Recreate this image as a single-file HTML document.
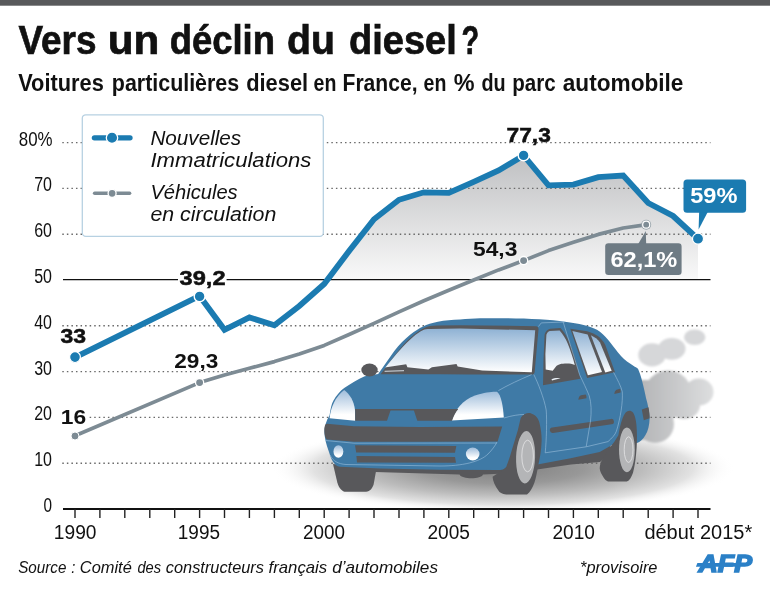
<!DOCTYPE html>
<html lang="fr"><head><meta charset="utf-8"><title>Vers un déclin du diesel ?</title>
<style>
html,body{margin:0;padding:0;background:#fff;}
svg{display:block;}
text{font-family:"Liberation Sans",sans-serif;fill:#111;}
.b{font-weight:bold;}
.i{font-style:italic;}
</style></head><body>
<svg width="770" height="591" viewBox="0 0 770 591">
<defs>
<linearGradient id="gArea" x1="0" y1="0" x2="0" y2="1"><stop offset="0" stop-color="#bfc0c2"/><stop offset="1" stop-color="#fbfbfb"/></linearGradient>
<linearGradient id="gGlass" x1="0" y1="0" x2="0" y2="1"><stop offset="0" stop-color="#8fb2d4"/><stop offset="1" stop-color="#ffffff"/></linearGradient>
<linearGradient id="gLamp" x1="0" y1="0" x2="0" y2="1"><stop offset="0" stop-color="#9fbddb"/><stop offset="0.8" stop-color="#ffffff"/></linearGradient>
<linearGradient id="gSmoke" gradientUnits="userSpaceOnUse" x1="640" y1="0" x2="715" y2="0"><stop offset="0" stop-color="#b4b5b7"/><stop offset="1" stop-color="#dedfe0"/></linearGradient>
<radialGradient id="gShadow" cx="0.5" cy="0.5" r="0.5"><stop offset="0" stop-color="#808080"/><stop offset="0.35" stop-color="#989898"/><stop offset="0.6" stop-color="#bcbcbc"/><stop offset="0.82" stop-color="#e2e2e2"/><stop offset="1" stop-color="#ffffff" stop-opacity="0"/></radialGradient>
<filter id="blur1" x="-20%" y="-20%" width="140%" height="140%"><feGaussianBlur stdDeviation="1"/></filter>
<filter id="blur3" x="-20%" y="-20%" width="140%" height="140%"><feGaussianBlur stdDeviation="2.5"/></filter>
</defs>
<rect width="770" height="591" fill="#fff"/>
<rect width="770" height="5.7" fill="#58595b"/>

<text y="54" class="b" font-size="40" stroke="#111" stroke-width="0.7"><tspan x="18.5" textLength="77.9" lengthAdjust="spacingAndGlyphs">Vers</tspan> <tspan x="107.8" textLength="51.6" lengthAdjust="spacingAndGlyphs">un</tspan> <tspan x="169.7" textLength="105.2" lengthAdjust="spacingAndGlyphs">déclin</tspan> <tspan x="287.1" textLength="47.9" lengthAdjust="spacingAndGlyphs">du</tspan> <tspan x="349.0" textLength="107.7" lengthAdjust="spacingAndGlyphs">diesel</tspan> <tspan x="461.6" textLength="17.7" lengthAdjust="spacingAndGlyphs">?</tspan></text>
<text y="91" class="b" font-size="23"><tspan x="18.2" textLength="85.6" lengthAdjust="spacingAndGlyphs">Voitures</tspan> <tspan x="111.8" textLength="127.4" lengthAdjust="spacingAndGlyphs">particulières</tspan> <tspan x="246.2" textLength="62.0" lengthAdjust="spacingAndGlyphs">diesel</tspan> <tspan x="313.6" textLength="22.8" lengthAdjust="spacingAndGlyphs">en</tspan> <tspan x="342.5" textLength="75.0" lengthAdjust="spacingAndGlyphs">France,</tspan> <tspan x="423.6" textLength="22.8" lengthAdjust="spacingAndGlyphs">en</tspan> <tspan x="453.7" textLength="20.8" lengthAdjust="spacingAndGlyphs">%</tspan> <tspan x="481.5" textLength="24.2" lengthAdjust="spacingAndGlyphs">du</tspan> <tspan x="512.3" textLength="43.4" lengthAdjust="spacingAndGlyphs">parc</tspan> <tspan x="562.8" textLength="120.6" lengthAdjust="spacingAndGlyphs">automobile</tspan></text>
<g id="under">
<!-- ground shadow -->
<ellipse cx="503" cy="468" rx="232" ry="45" fill="url(#gShadow)"/>
<!-- smoke -->
<g filter="url(#blur1)">
<ellipse cx="694.7" cy="337.2" rx="10.7" ry="7.8" fill="#d6d7d9"/>
<ellipse cx="671.8" cy="348.8" rx="13.7" ry="10.9" fill="#d6d7d9"/>
<ellipse cx="652" cy="354.9" rx="13.7" ry="11.6" fill="#d6d7d9"/>
<g fill="url(#gSmoke)">
<circle cx="668" cy="394.5" r="24"/>
<circle cx="655" cy="424" r="19"/>
<ellipse cx="699" cy="392" rx="14.5" ry="13.5"/>
<ellipse cx="684" cy="405" rx="16" ry="14"/>
<rect x="636" y="380" width="20" height="60"/>
</g>
</g>
</g>

<path d="M318.5,279.5 L324.2,284.0 L349.1,251.0 L374.0,219.3 L399.0,199.8 L423.9,192.3 L448.8,192.9 L473.7,181.8 L498.6,170.5 L523.6,155.4 L548.5,185.3 L573.4,184.6 L598.3,177.1 L623.2,175.5 L648.2,203.0 L673.1,216.0 L698.0,238.8 L698.0,279.5 Z" fill="url(#gArea)"/>
<line x1="62.3" x2="710.5" y1="463.2" y2="463.2" stroke="#6a6a6a" stroke-width="1.4" stroke-dasharray="1.5 3.06"/>
<line x1="62.3" x2="710.5" y1="417.4" y2="417.4" stroke="#6a6a6a" stroke-width="1.4" stroke-dasharray="1.5 3.06"/>
<line x1="62.3" x2="710.5" y1="371.6" y2="371.6" stroke="#6a6a6a" stroke-width="1.4" stroke-dasharray="1.5 3.06"/>
<line x1="62.3" x2="710.5" y1="325.8" y2="325.8" stroke="#6a6a6a" stroke-width="1.4" stroke-dasharray="1.5 3.06"/>
<line x1="62.3" x2="710.5" y1="234.2" y2="234.2" stroke="#6a6a6a" stroke-width="1.4" stroke-dasharray="1.5 3.06"/>
<line x1="62.3" x2="710.5" y1="188.4" y2="188.4" stroke="#6a6a6a" stroke-width="1.4" stroke-dasharray="1.5 3.06"/>
<line x1="62.3" x2="710.5" y1="142.6" y2="142.6" stroke="#6a6a6a" stroke-width="1.4" stroke-dasharray="1.5 3.06"/>
<text x="18.8" y="145.5" font-size="19.7" textLength="33.8" lengthAdjust="spacingAndGlyphs">80%</text>
<text x="34.2" y="191.3" font-size="19.7" textLength="17.8" lengthAdjust="spacingAndGlyphs">70</text>
<text x="34.2" y="237.1" font-size="19.7" textLength="17.8" lengthAdjust="spacingAndGlyphs">60</text>
<text x="34.2" y="282.9" font-size="19.7" textLength="17.8" lengthAdjust="spacingAndGlyphs">50</text>
<text x="34.2" y="328.7" font-size="19.7" textLength="17.8" lengthAdjust="spacingAndGlyphs">40</text>
<text x="34.2" y="374.5" font-size="19.7" textLength="17.8" lengthAdjust="spacingAndGlyphs">30</text>
<text x="34.2" y="420.3" font-size="19.7" textLength="17.8" lengthAdjust="spacingAndGlyphs">20</text>
<text x="34.2" y="466.1" font-size="19.7" textLength="17.8" lengthAdjust="spacingAndGlyphs">10</text>
<text x="43.5" y="511.9" font-size="19.7" textLength="8.5" lengthAdjust="spacingAndGlyphs">0</text>
<line x1="63" x2="710.5" y1="279.6" y2="279.6" stroke="#111" stroke-width="1.3"/>
<line x1="63" x2="710.5" y1="509" y2="509" stroke="#111" stroke-width="1.9"/>
<line x1="75.0" x2="75.0" y1="509" y2="518" stroke="#222" stroke-width="1.4"/>
<line x1="99.9" x2="99.9" y1="509" y2="518" stroke="#222" stroke-width="1.4"/>
<line x1="124.8" x2="124.8" y1="509" y2="518" stroke="#222" stroke-width="1.4"/>
<line x1="149.8" x2="149.8" y1="509" y2="518" stroke="#222" stroke-width="1.4"/>
<line x1="174.7" x2="174.7" y1="509" y2="518" stroke="#222" stroke-width="1.4"/>
<line x1="199.6" x2="199.6" y1="509" y2="518" stroke="#222" stroke-width="1.4"/>
<line x1="224.5" x2="224.5" y1="509" y2="518" stroke="#222" stroke-width="1.4"/>
<line x1="249.4" x2="249.4" y1="509" y2="518" stroke="#222" stroke-width="1.4"/>
<line x1="274.4" x2="274.4" y1="509" y2="518" stroke="#222" stroke-width="1.4"/>
<line x1="299.3" x2="299.3" y1="509" y2="518" stroke="#222" stroke-width="1.4"/>
<line x1="324.2" x2="324.2" y1="509" y2="518" stroke="#222" stroke-width="1.4"/>
<line x1="349.1" x2="349.1" y1="509" y2="518" stroke="#222" stroke-width="1.4"/>
<line x1="374.0" x2="374.0" y1="509" y2="518" stroke="#222" stroke-width="1.4"/>
<line x1="399.0" x2="399.0" y1="509" y2="518" stroke="#222" stroke-width="1.4"/>
<line x1="423.9" x2="423.9" y1="509" y2="518" stroke="#222" stroke-width="1.4"/>
<line x1="448.8" x2="448.8" y1="509" y2="518" stroke="#222" stroke-width="1.4"/>
<line x1="473.7" x2="473.7" y1="509" y2="518" stroke="#222" stroke-width="1.4"/>
<line x1="498.6" x2="498.6" y1="509" y2="518" stroke="#222" stroke-width="1.4"/>
<line x1="523.6" x2="523.6" y1="509" y2="518" stroke="#222" stroke-width="1.4"/>
<line x1="548.5" x2="548.5" y1="509" y2="518" stroke="#222" stroke-width="1.4"/>
<line x1="573.4" x2="573.4" y1="509" y2="518" stroke="#222" stroke-width="1.4"/>
<line x1="598.3" x2="598.3" y1="509" y2="518" stroke="#222" stroke-width="1.4"/>
<line x1="623.2" x2="623.2" y1="509" y2="518" stroke="#222" stroke-width="1.4"/>
<line x1="648.2" x2="648.2" y1="509" y2="518" stroke="#222" stroke-width="1.4"/>
<line x1="673.1" x2="673.1" y1="509" y2="518" stroke="#222" stroke-width="1.4"/>
<line x1="698.0" x2="698.0" y1="509" y2="518" stroke="#222" stroke-width="1.4"/>
<text x="53.8" y="538.8" font-size="19.6" textLength="42.7" lengthAdjust="spacingAndGlyphs">1990</text>
<text x="177.8" y="538.8" font-size="19.6" textLength="42.2" lengthAdjust="spacingAndGlyphs">1995</text>
<text x="303.0" y="538.8" font-size="19.6" textLength="42.0" lengthAdjust="spacingAndGlyphs">2000</text>
<text x="427.5" y="538.8" font-size="19.6" textLength="42.5" lengthAdjust="spacingAndGlyphs">2005</text>
<text x="552.5" y="538.8" font-size="19.6" textLength="42.5" lengthAdjust="spacingAndGlyphs">2010</text>
<text x="644.4" y="538.8" font-size="19.6" textLength="107.8" lengthAdjust="spacingAndGlyphs">début 2015*</text>
<g id="car">
<!-- underside / far wheels -->
<g fill="#58585b">
<path d="M333,464 L337.4,482.7 C339,488 342,491.8 346,491.8 L366,491.8 C370,491.8 372.5,488 373.6,484.6 L376.6,468 Z"/>
<path d="M372,466 L505,468 L505,473.5 L483,474.5 C481,479.5 462,479.5 459.5,474.5 L375,472 Z"/>
<path d="M536,462 L571,455.5 L600,449.5 L610,444 L612,452 L600,462 L571,464.5 L537,469.5 Z"/>
</g>
<!-- body -->
<path fill="#3f7aa6" d="M378.2,374 C383.5,366.5 389,358.5 394.3,351 C399.5,344.5 404.5,339.5 410.4,334.6 C415,331 419,328.4 423,326.5 C427,324.3 432,322.8 437.9,321.7 C445,320.5 452,320 460,319.6 C467,319 474,318.5 480,318.3 C505,317.8 545,318.5 565,321.7 C579,323.3 590,326 597,329.8 C605,334.5 612,345 618,352.5 C622,357.5 626,361 630,363.6 C633,365.8 636,367.4 638,368.8 C641,375 644,388 646,398 C648,405 649.5,412 649.6,418.4 C649.5,425 648,431 645.5,435 C643,439.5 640,442 637,443 L612,445 L599.7,452 L570.6,458.2 L537.4,464.4 L500,470 L440,469.8 L380,468.6 L340,466.8 C334,466 331,459 329,452 C326,444 324.6,438 324.4,432 C324.4,427 326,421 329.6,415.2 C330.5,409 331.5,404 333.5,400.6 C336,396 340,391 344.2,388 C350,384 358,379 364.7,376.2 Z"/>
<!-- wheels (near side) -->
<g fill="#58585b">
<path d="M520.8,417.7 C523,414 528,412.3 531.2,413.5 C536,415 538.5,419 539.5,422.9 C541.2,430 541.8,436 541.6,441.6 C541.3,450 540,458 538.4,464.4 C537,472 536,478 534.3,483.1 C532.5,488 530,492.5 527,494.6 L506.2,494.6 C502,494 499.5,492.5 498.4,490.5 C495,486 492.8,481 492.6,476.8 C497,473.5 502,471 506.2,467 C508.5,461 510.5,455 512,449.5 C514,443 516,436.5 517.9,430 C519,425 520,421 520.8,417.7 Z"/>
<path d="M618.4,435.3 C620,426 622,418 625,413.5 C627,410.5 630.5,409.8 633,412.5 C635.5,416 636.5,423 636.8,430 C637.2,438 637,446 636.1,454 C635.5,461 634.5,467 633,472.7 C631.5,477 629.5,480.5 626.8,481.6 L608,481.4 C606,480.5 604.8,479.3 603.9,477.9 C601.5,474.5 600,471.5 599.7,468.6 C599.8,465 600.6,462.5 601.8,460.3 C606,452.5 611,446 614.5,441.5 Z"/>
</g>
<ellipse cx="525.6" cy="457.2" rx="9.5" ry="26.2" fill="#b4b5b7" transform="rotate(2 525.6 457.2)"/>
<ellipse cx="527.6" cy="456" rx="5.8" ry="15.8" fill="none" stroke="#e6e6e7" stroke-width="0.8"/>
<ellipse cx="626.9" cy="449.8" rx="7.9" ry="22.4" fill="#b4b5b7"/>
<ellipse cx="628.6" cy="449.6" rx="4.4" ry="12.8" fill="none" stroke="#e6e6e7" stroke-width="0.8"/>
<!-- windows -->
<g fill="#58585b">
<path d="M380.6,374.2 C386.5,366.5 392,359 396.6,353 C401.5,346.5 406.5,341 412,336.4 C416.5,332.8 420.5,329.9 424.3,328 C428,326.2 432,325.7 437,325.6 L460,325.2 L536,326.2 C538,326.5 538.7,327.6 538.5,329.5 L534.6,372.5 L533.5,374.5 L470,374.5 L440,374.3 L400,374.3 Z"/>
<path d="M544.6,334.5 C545.3,331.5 547.5,329.2 550.1,328.7 L560.5,328 C564,331.5 567,336.5 569,341.2 C572,348 574,355 575.7,360.5 L580.3,378.8 L543,385.3 L543.5,360 Z"/>
<path d="M570.3,328.7 L587.1,331.2 C591,332.3 594.5,333.8 597.5,335.8 C600.5,338 603.2,341 605.3,344.9 L615,372.2 L587.1,378 Z"/>
<ellipse cx="369.5" cy="370" rx="8.2" ry="6.5"/>
</g>
<path fill="url(#gGlass)" d="M385.3,367.4 C390.5,361 395.5,355 400.2,349.7 C404.5,344.8 408.5,340.8 413,337 C416.5,334 420,331.5 423.3,330 C424.5,329.2 427,329 430,328.9 L460,328.6 L535.2,330.2 L531.8,372.3 L482.2,370.5 L457.7,366.6 L456.5,363.9 L431.9,367.2 L428.4,369.5 L407.4,367.2 L406.2,364.3 L386.2,367.3 Z"/>
<path d="M384.6,371.3 L404,370.7" stroke="#e3ebf3" stroke-width="0.9" fill="none"/>
<path fill="url(#gGlass)" d="M546.4,334.8 C547,332.6 548.2,331.2 549.8,330.9 L559.6,330.4 C563,334 565.8,338.8 567.7,343.6 C570.5,350.5 573,358 574.8,365 C572,364 570,363.6 567,363.6 C564,363.6 561.5,363.8 559.9,364.2 C558,364.8 556.8,365.5 556,366.4 L552.7,370.8 L545.7,369.6 L545.4,354 Z"/>
<path fill="url(#gGlass)" d="M572.4,330.9 L587.6,334.4 L602,372.1 L587.9,375.3 Z"/>
<path fill="url(#gGlass)" d="M590.9,335.3 C594.5,337 597.8,339.3 600,342.4 L611.7,370.8 L605.3,372.4 Z"/>
<path d="M551.5,379.3 C554,377.8 557.5,377.6 560.5,378.2 L552,380.6 Z" fill="#e8eef4"/>
<!-- headlights -->
<path fill="url(#gLamp)" d="M451.7,420.6 C455,410 462,400.5 475,395.5 C485,392.3 492,391.6 497,391.8 C501,395 503,405 503.8,417.6 Z"/>
<path fill="url(#gLamp)" d="M329.6,418.3 C330.5,408 335,397 344.2,390 C350,394.5 354,401 355,410 L355.2,420.8 Z"/>
<!-- grille -->
<path fill="#58585b" d="M355.2,409 L391,409 L387,420.7 L355.2,420.7 Z"/>
<path fill="#58585b" d="M413.4,409 L458,409 C455.5,412.5 453.5,416.5 452,420.7 L417.3,420.7 Z"/>
<path fill="#58585b" d="M355.2,409 L458,409 L457,410.4 L355.2,410.4 Z"/>
<!-- bumper band -->
<path fill="#58585b" d="M324.4,431.5 C324.2,426.5 325.2,423.6 327,423.8 L354,426.2 L420,427 L502.2,426.4 L497.6,441.5 L420,441.8 L354,441.8 L327,439.6 C325.2,438 324.5,435 324.4,431.5 Z"/>
<path fill="#58585b" d="M355,445.3 L456.3,446 L455,452.8 L356.2,452.4 Z"/>
<path fill="#58585b" d="M356.4,456 L455,457 L456,462.8 L357,462.4 Z"/>
<ellipse cx="338.4" cy="451.5" rx="4.9" ry="6.2" fill="url(#gLamp)"/>
<ellipse cx="472.7" cy="454" rx="6.8" ry="6.4" fill="url(#gLamp)"/>
<!-- trim / handles -->
<path d="M552.6,430.2 L611.2,421.6" stroke="#58585b" stroke-width="5.5" stroke-linecap="round" fill="none"/>
<path fill="#58585b" d="M578.3,399.8 C578.6,397.5 579.5,395.8 581,395.3 L585.6,394.4 C586.4,395.4 586.6,396.8 586.4,398.2 Z"/>
<path fill="#58585b" d="M614.3,394 C614.5,392 615.3,390.4 616.5,389.8 L620,388.8 C620.6,389.8 620.8,391.2 620.6,392.5 Z"/>
<path fill="#58585b" d="M641.8,409.6 L648.4,407.3 C649.3,411 649.6,415 649.6,418.3 L643.8,420.2 Z"/>
<!-- body lines -->
<g fill="none" stroke="#9cc0dc" stroke-width="0.7" opacity="0.85">
<path d="M531.6,374.6 C520,379.5 508,385 498.4,390.6"/>
<path d="M533.8,374.5 C538,383 544,398 546.2,410 C547,420 546.5,440 545.2,452.8 L586.2,446.8 L608,441.6 C612,438 615,435 616.4,431.2"/>
<path d="M538.4,326.6 L541.3,322.9 L564.7,322"/>
<path d="M563,321.5 L579.5,374.3 C583,382 587,390 589.2,395.7 C591.5,403 591.5,412 590.5,421 L586.2,446.8"/>
<path d="M613.6,372.3 C617,379 621,386 622.3,391.8 C623,402 620.5,418 616.4,431.2"/>
<path d="M504,418 C512,415.5 519,414.5 524,414.5"/>
<path d="M325.5,440.5 L354,443.2 L497,443"/>
<path d="M330,455 C333,461 338,464 346,464.5 L440,466 C462,466 480,462 488,454 C492,450 495,446 497,442"/>
</g>
</g>

<path d="M75.0,435.8 L199.6,382.6 L224.5,375.0 L249.4,368.3 L274.4,361.6 L299.3,354.1 L324.2,345.4 L349.1,334.5 L374.0,323.4 L399.0,311.9 L423.9,300.8 L448.8,290.3 L473.7,280.0 L498.6,269.9 L523.6,260.6 L548.5,250.6 L573.4,242.2 L598.3,234.4 L623.2,228.0 L646.9,224.7" fill="none" stroke="#7d8b94" stroke-width="3.7" stroke-linejoin="round" stroke-linecap="round"/>
<path d="M75.0,357.3 L199.6,296.0 L224.5,329.8 L249.4,317.4 L274.4,325.3 L299.3,306.0 L324.2,284.0 L349.1,251.0 L374.0,219.3 L399.0,199.8 L423.9,192.3 L448.8,192.9 L473.7,181.8 L498.6,170.5 L523.6,155.4 L548.5,185.3 L573.4,184.6 L598.3,177.1 L623.2,175.5 L648.2,203.0 L673.1,216.0 L698.0,238.8" fill="none" stroke="#1b7bb1" stroke-width="5.8" stroke-linejoin="miter" stroke-linecap="round"/>
<rect x="82.3" y="114.8" width="241" height="121.5" rx="3.5" fill="#fff" stroke="#b7d1e2" stroke-width="1.3"/>
<line x1="94.4" x2="130" y1="137.8" y2="137.8" stroke="#1b7bb1" stroke-width="5.3" stroke-linecap="round"/>
<circle cx="112" cy="137.8" r="5.7" fill="#1b7bb1" stroke="#fff" stroke-width="1.3"/>
<line x1="94.6" x2="129.6" y1="193.3" y2="193.3" stroke="#7d8b94" stroke-width="3.5" stroke-linecap="round"/>
<circle cx="112.1" cy="193.3" r="4" fill="#7d8b94" stroke="#fff" stroke-width="1.3"/>
<text class="i" x="150.4" y="144.6" font-size="20" textLength="90.8" lengthAdjust="spacingAndGlyphs">Nouvelles</text>
<text class="i" x="150.4" y="167.4" font-size="20" textLength="161.0" lengthAdjust="spacingAndGlyphs">Immatriculations</text>
<text class="i" x="150.4" y="199.0" font-size="20" textLength="87.3" lengthAdjust="spacingAndGlyphs">Véhicules</text>
<text class="i" x="150.4" y="220.7" font-size="20" textLength="125.9" lengthAdjust="spacingAndGlyphs">en circulation</text>
<circle cx="75.0" cy="357.1" r="5.4" fill="#1b7bb1" stroke="#fff" stroke-width="1.2"/>
<circle cx="199.6" cy="296.4" r="5.4" fill="#1b7bb1" stroke="#fff" stroke-width="1.4"/>
<circle cx="523.6" cy="155.4" r="5.4" fill="#1b7bb1" stroke="#fff" stroke-width="1.4"/>
<circle cx="75.0" cy="436.0" r="4.0" fill="#7d8b94" stroke="#fff" stroke-width="1.0"/>
<circle cx="199.6" cy="382.6" r="4.1" fill="#7d8b94" stroke="#fff" stroke-width="1.3"/>
<circle cx="523.6" cy="260.6" r="4.1" fill="#7d8b94" stroke="#fff" stroke-width="1.3"/>
<circle cx="646.2" cy="224.7" r="5" fill="#98a3aa"/><circle cx="646.2" cy="224.7" r="4.1" fill="#fff"/><circle cx="646.2" cy="224.7" r="2.9" fill="#7d8b94"/>
<path d="M699.2,210 L708.8,210 L698.6,229.5 Z" fill="#1b7bb1"/>
<rect x="683.5" y="179.6" width="62.6" height="33.2" rx="3.5" fill="#1b7bb1"/>
<circle cx="698.0" cy="238.7" r="5.5" fill="#1b7bb1" stroke="#fff" stroke-width="1.2"/>
<text class="b" x="690.2" y="202.5" font-size="21.2" textLength="47.2" lengthAdjust="spacingAndGlyphs" style="fill:#fff">59%</text>
<path d="M637.6,245 L646.2,245 L645.8,231 Z" fill="#6e7b84"/>
<rect x="605.2" y="243.3" width="76.4" height="31.7" rx="3.2" fill="#6e7b84"/>
<text class="b" x="610.5" y="267.2" font-size="21.2" textLength="66.8" lengthAdjust="spacingAndGlyphs" style="fill:#fff">62,1%</text>
<rect x="178" y="270" width="48.6" height="17" fill="#fff"/>
<text class="b" x="179.6" y="285" font-size="20" textLength="46" lengthAdjust="spacingAndGlyphs" stroke="#111" stroke-width="0.5">39,2</text>
<text class="b" x="60.5" y="342.9" font-size="20" textLength="25.6" lengthAdjust="spacingAndGlyphs" stroke="#111" stroke-width="0.5">33</text>
<rect x="60.5" y="409" width="28.5" height="16" fill="#fff"/>
<text class="b" x="60.8" y="424.2" font-size="19.5" textLength="25.4" lengthAdjust="spacingAndGlyphs">16</text>
<text class="b" x="174.3" y="368.4" font-size="19.5" textLength="44" lengthAdjust="spacingAndGlyphs">29,3</text>
<text class="b" x="506.5" y="141.7" font-size="20" textLength="44.3" lengthAdjust="spacingAndGlyphs" stroke="#111" stroke-width="0.5">77,3</text>
<text class="b" x="473" y="255.8" font-size="19.5" textLength="44.4" lengthAdjust="spacingAndGlyphs">54,3</text>
<text y="572.8" class="i" font-size="17"><tspan x="18.2" textLength="48.2" lengthAdjust="spacingAndGlyphs">Source</tspan> <tspan x="71.2" textLength="4.1" lengthAdjust="spacingAndGlyphs">:</tspan> <tspan x="79.8" textLength="52.0" lengthAdjust="spacingAndGlyphs">Comité</tspan> <tspan x="137.4" textLength="23.7" lengthAdjust="spacingAndGlyphs">des</tspan> <tspan x="165.8" textLength="98.2" lengthAdjust="spacingAndGlyphs">constructeurs</tspan> <tspan x="268.6" textLength="58.6" lengthAdjust="spacingAndGlyphs">français</tspan> <tspan x="332.2" textLength="105.8" lengthAdjust="spacingAndGlyphs">d’automobiles</tspan></text>
<text class="i" x="580" y="572.8" font-size="17" textLength="77.5" lengthAdjust="spacingAndGlyphs">*provisoire</text>
<g id="afp">
<text x="698.6" y="571.8" font-size="23.2" font-weight="bold" font-style="italic" textLength="53.4" lengthAdjust="spacingAndGlyphs" style="fill:#2b80c7;stroke:#2b80c7;stroke-width:1.5px;stroke-linejoin:miter">AFP</text>
<path d="M697.4,562.9 L738,562.9 L738,566.7 L695.9,566.7 Z" fill="#2b80c7"/>
</g>

</svg></body></html>
